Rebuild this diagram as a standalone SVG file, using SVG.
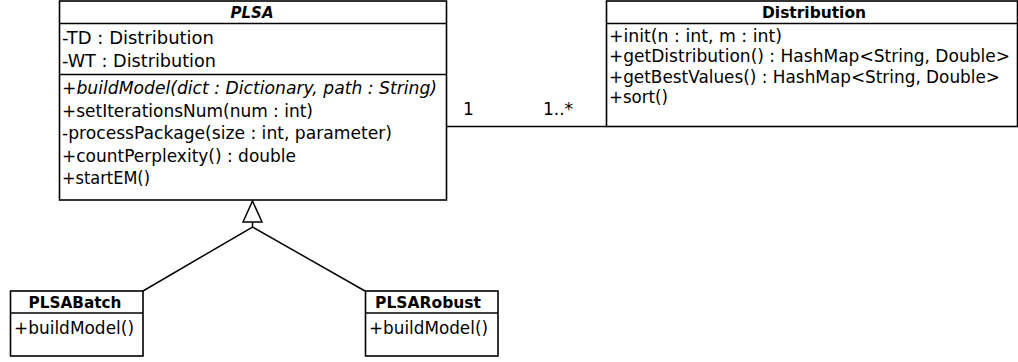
<svg xmlns="http://www.w3.org/2000/svg" width="1018" height="362" viewBox="0 0 1018 362">
<style>
.box{fill:#fff;stroke:#000;stroke-width:1.6}
.sep{stroke:#000;stroke-width:1.6;fill:none}
.edge{stroke:#000;stroke-width:1.5;fill:none}
text{font-family:"DejaVu Sans","Liberation Sans",sans-serif;fill:#000}
.t{font-size:16px;font-weight:bold;text-anchor:middle}
.m{font-size:17.2px}
.i{font-style:italic}
.lbl{font-size:17px}
</style>
<rect width="1018" height="362" fill="#fff"/>
<g id="connectors">
<line class="edge" x1="446" y1="126.5" x2="607" y2="126.5"/>
<text class="lbl" x="463" y="115">1</text>
<text class="lbl" x="543" y="115">1..*</text>
<polyline class="edge" points="143,291 252.5,227 365,291"/>
<line class="edge" x1="252.5" y1="222" x2="252.5" y2="227"/>
<polygon class="edge" points="252.5,201 243,222 262,222" fill="#fff"/>
</g>
<g id="PLSA">
<rect class="box" x="59.5" y="1" width="387" height="199"/>
<line class="sep" x1="59.5" y1="23.5" x2="446.5" y2="23.5"/>
<line class="sep" x1="59.5" y1="74.5" x2="446.5" y2="74.5"/>
<text class="t i" x="252" y="18" textLength="43" lengthAdjust="spacingAndGlyphs">PLSA</text>
<text class="m" x="62" y="44" textLength="152" lengthAdjust="spacingAndGlyphs">-TD : Distribution</text>
<text class="m" x="62" y="66.5" textLength="154" lengthAdjust="spacingAndGlyphs">-WT : Distribution</text>
<text class="m i" x="62" y="94" textLength="375" lengthAdjust="spacingAndGlyphs">+buildModel(dict : Dictionary, path : String)</text>
<text class="m" x="62" y="116.5" textLength="251" lengthAdjust="spacingAndGlyphs">+setIterationsNum(num : int)</text>
<text class="m" x="62" y="139" textLength="330" lengthAdjust="spacingAndGlyphs">-processPackage(size : int, parameter)</text>
<text class="m" x="62" y="161.5" textLength="234" lengthAdjust="spacingAndGlyphs">+countPerplexity() : double</text>
<text class="m" x="62" y="184" textLength="88" lengthAdjust="spacingAndGlyphs">+startEM()</text>
</g>
<g id="Distribution">
<rect class="box" x="606.5" y="1" width="411" height="125.5"/>
<line class="sep" x1="606.5" y1="23.5" x2="1017.5" y2="23.5"/>
<text class="t" x="814" y="18" textLength="104" lengthAdjust="spacingAndGlyphs">Distribution</text>
<text class="m" x="609" y="41.5" textLength="173" lengthAdjust="spacingAndGlyphs">+init(n : int, m : int)</text>
<text class="m" x="609" y="62" textLength="401" lengthAdjust="spacingAndGlyphs">+getDistribution() : HashMap&lt;String, Double&gt;</text>
<text class="m" x="609" y="82.5" textLength="391" lengthAdjust="spacingAndGlyphs">+getBestValues() : HashMap&lt;String, Double&gt;</text>
<text class="m" x="609" y="103" textLength="59" lengthAdjust="spacingAndGlyphs">+sort()</text>
</g>
<g id="PLSABatch">
<rect class="box" x="10.5" y="291" width="132.5" height="65"/>
<line class="sep" x1="10.5" y1="313" x2="143" y2="313"/>
<text class="t" x="75" y="308" textLength="93" lengthAdjust="spacingAndGlyphs">PLSABatch</text>
<text class="m" x="14" y="334" textLength="120" lengthAdjust="spacingAndGlyphs">+buildModel()</text>
</g>
<g id="PLSARobust">
<rect class="box" x="365.5" y="291" width="132.5" height="65"/>
<line class="sep" x1="365.5" y1="313" x2="498" y2="313"/>
<text class="t" x="428" y="308" textLength="106" lengthAdjust="spacingAndGlyphs">PLSARobust</text>
<text class="m" x="369" y="334" textLength="119" lengthAdjust="spacingAndGlyphs">+buildModel()</text>
</g>
</svg>
